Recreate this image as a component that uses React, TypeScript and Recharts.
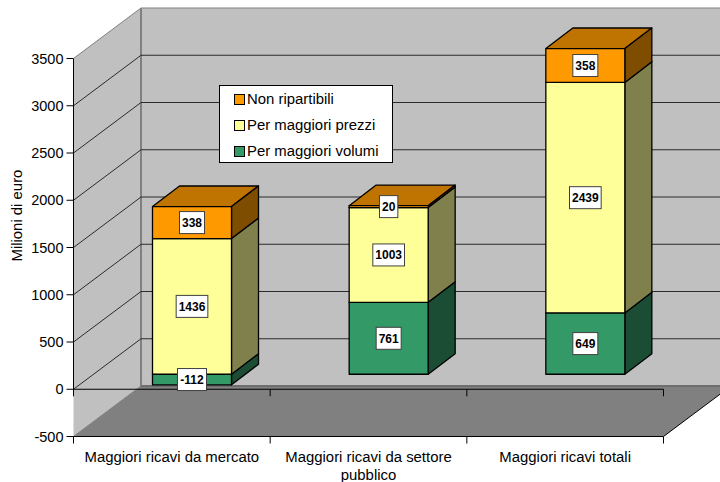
import { Bar, BarChart, CartesianGrid, LabelList, Legend, Text, XAxis, YAxis } from 'recharts'

const categories = ['Maggiori ricavi da mercato', 'Maggiori ricavi da settore pubblico', 'Maggiori ricavi totali']
const perVolumi = [-112, 761, 649]
const perPrezzi = [1436, 1003, 2439]
const nonRipartibili = [338, 20, 358]
const valueTicks = [-500, 0, 500, 1000, 1500, 2000, 2500, 3000, 3500]

const rows = categories.map((name, i) => ({
  name,
  volumi: perVolumi[i],
  prezzi: perPrezzi[i],
  nonRip: nonRipartibili[i],
}))

const FONT = '"Liberation Sans", Arial, sans-serif'
const TEXT_SIZE = 14.9
const WIDTH = 720
const HEIGHT = 482

// plot rectangle of the front plane
const LEFT = 73.5
const RIGHT = 663.5
const TOP = 58.5
const BOTTOM = 436.5
const BAND = (RIGHT - LEFT) / categories.length
const zeroY = BOTTOM - ((0 - valueTicks[0]) / 4000) * (BOTTOM - TOP)

// fake 3D: offset of the back wall, of the bar plane, and bar depth
const WALL_DX = 67.5
const WALL_DY = -50.5
const BAR_DX = 20
const BAR_DY = -15
const DEPTH_DX = 27
const DEPTH_DY = -20.6

function pts(list: number[][]) {
  return list.map((p) => p.join(',')).join(' ')
}

function Walls() {
  return (
    <g>
      <polygon
        points={pts([[LEFT, TOP], [LEFT + WALL_DX, TOP + WALL_DY], [LEFT + WALL_DX, BOTTOM + WALL_DY], [LEFT, BOTTOM]])}
        fill="#c0c0c0"
      />
      <rect x={LEFT + WALL_DX} y={TOP + WALL_DY} width={WIDTH} height={BOTTOM - TOP} fill="#c0c0c0" />
      <polygon
        points={pts([[LEFT, BOTTOM], [LEFT + WALL_DX, BOTTOM + WALL_DY], [RIGHT + WALL_DX, BOTTOM + WALL_DY], [RIGHT, BOTTOM]])}
        fill="#808080"
      />
      <line x1={LEFT + WALL_DX} y1={TOP + WALL_DY} x2={LEFT + WALL_DX} y2={BOTTOM + WALL_DY} stroke="#808080" strokeWidth={2} />
      <line x1={LEFT + WALL_DX} y1={BOTTOM + WALL_DY} x2={WIDTH} y2={BOTTOM + WALL_DY} stroke="#6e6e6e" strokeWidth={2} />
      <line x1={LEFT} y1={BOTTOM} x2={LEFT + WALL_DX} y2={BOTTOM + WALL_DY} stroke="#808080" />
    </g>
  )
}

// grid lines run along the side wall, then across the back wall
function GridLine(props: any) {
  const { x1, y1, x2 } = props
  if (y1 > BOTTOM - 1) return <g />
  const isTop = y1 < TOP + 1
  return (
    <polyline
      points={pts([[x1, y1], [x1 + WALL_DX, y1 + WALL_DY], [x2 + WALL_DX, y1 + WALL_DY]])}
      fill="none"
      stroke={isTop ? '#808080' : '#2b2b2b'}
      strokeWidth={1}
    />
  )
}

function CategoryTick(props: any) {
  const { x, y, payload, index } = props
  const left = x - BAND / 2
  const right = x + BAND / 2
  return (
    <g>
      <line x1={left} y1={BOTTOM} x2={left} y2={BOTTOM + 7} stroke="#000" />
      {index > 0 && <line x1={left} y1={zeroY} x2={left} y2={zeroY + 7} stroke="#000" />}
      {index === categories.length - 1 && (
        <>
          <line x1={right} y1={BOTTOM} x2={right} y2={BOTTOM + 7} stroke="#000" />
          <line x1={right} y1={zeroY} x2={right} y2={zeroY + 7} stroke="#000" />
        </>
      )}
      <Text x={x} y={y + 6.5} width={192} textAnchor="middle" verticalAnchor="start" lineHeight={18.5} fontSize={TEXT_SIZE} fontFamily={FONT} fill="#000">
        {payload.value}
      </Text>
    </g>
  )
}

function AxisFrame() {
  return (
    <g>
      <line x1={LEFT} y1={TOP} x2={LEFT} y2={zeroY + 7} stroke="#000" />
      <line x1={LEFT} y1={zeroY} x2={RIGHT} y2={zeroY} stroke="#000" />
      <line x1={RIGHT} y1={BOTTOM} x2={RIGHT + WALL_DX} y2={BOTTOM + WALL_DY} stroke="#000" />
    </g>
  )
}

const sideColors: Record<string, string[]> = {
  '#339966': ['#267350', '#1a4d33'],
  '#ffff99': ['#c0c073', '#80804d'],
  '#ff9900': ['#bf7300', '#7f4d00'],
}

function Block(props: any) {
  const { x, y, width, height, fill } = props
  const h = Math.abs(height)
  const l = x + BAR_DX
  const r = l + width
  const t = Math.min(y, y + height) + BAR_DY
  const b = t + h
  const [topFill, sideFill] = sideColors[fill]
  return (
    <g stroke="#000" strokeWidth={1.3} strokeLinejoin="round">
      <polygon points={pts([[l, t], [l + DEPTH_DX, t + DEPTH_DY], [r + DEPTH_DX, t + DEPTH_DY], [r, t]])} fill={topFill} />
      <polygon points={pts([[r, t], [r + DEPTH_DX, t + DEPTH_DY], [r + DEPTH_DX, b + DEPTH_DY], [r, b]])} fill={sideFill} />
      <rect x={l} y={t} width={width} height={h} fill={fill} />
    </g>
  )
}

function ValueBox(props: any) {
  const { x, y, width, height, value } = props
  const label = String(value)
  const w = label.length * 6.67 + 5 - (label.startsWith('-') ? 2.67 : 0)
  const cx = x + width / 2 + BAR_DX
  const cy = y + height / 2 + BAR_DY
  return (
    <g>
      <rect x={cx - w / 2} y={cy - 11} width={w} height={22} fill="#fff" stroke="#404040" strokeWidth={1} />
      <text x={cx} y={cy + 4.5} textAnchor="middle" fontFamily={FONT} fontSize={12} fontWeight={700} fill="#000">
        {label}
      </text>
    </g>
  )
}

function LegendBox(props: any) {
  const items = props.payload ?? []
  return (
    <div style={{ width: 172, height: 76, background: '#fff', border: '1px solid #000', fontFamily: FONT, fontSize: TEXT_SIZE, color: '#000' }}>
      {items.map((it: any, i: number) => (
        <div key={it.value} style={{ position: 'absolute', left: 15, top: 8 + i * 26, display: 'flex', alignItems: 'center', gap: 2, height: 12, whiteSpace: 'nowrap' }}>
          <span style={{ width: 9, height: 9, background: it.color, border: '1px solid #000', display: 'inline-block' }} />
          {it.value}
        </div>
      ))}
    </div>
  )
}

export default function App() {
  return (
    <div style={{ position: 'absolute', left: 0, top: 0, width: WIDTH, height: HEIGHT, background: '#fff' }}>
      <BarChart
        width={WIDTH}
        height={HEIGHT}
        data={rows}
        stackOffset="sign"
        barSize={79}
        margin={{ top: TOP, right: WIDTH - RIGHT, bottom: 0, left: 0 }}
      >
        <Walls />
        <CartesianGrid vertical={false} horizontal={GridLine} zIndex={1} />
        <AxisFrame />
        <XAxis
          dataKey="name"
          height={HEIGHT - BOTTOM}
          interval={0}
          tickLine={false}
          axisLine={{ stroke: '#000' }}
          tick={CategoryTick}
        />
        <YAxis
          width={LEFT}
          domain={[-500, 3500]}
          ticks={valueTicks}
          interval={0}
          axisLine={false}
          tickLine={{ stroke: '#000' }}
          tickSize={7}
          tickMargin={3}
          tick={{ fontSize: 14.5, fontFamily: FONT, fill: '#000' }}
          label={{ value: 'Milioni di euro', angle: -90, position: 'insideLeft', offset: 17, dy: 14, style: { fontSize: TEXT_SIZE, fontFamily: FONT, fill: '#000' } }}
        />
        <Legend
          layout="vertical"
          align="center"
          verticalAlign="middle"
          wrapperStyle={{ position: 'absolute', left: 219, top: 85, width: 174 }}
          content={LegendBox}
        />
        <Bar dataKey="volumi" name="Per maggiori volumi" stackId="a" fill="#339966" shape={Block} isAnimationActive={false}>
          <LabelList dataKey="volumi" content={ValueBox} />
        </Bar>
        <Bar dataKey="prezzi" name="Per maggiori prezzi" stackId="a" fill="#ffff99" shape={Block} isAnimationActive={false}>
          <LabelList dataKey="prezzi" content={ValueBox} />
        </Bar>
        <Bar dataKey="nonRip" name="Non ripartibili" stackId="a" fill="#ff9900" shape={Block} isAnimationActive={false}>
          <LabelList dataKey="nonRip" content={ValueBox} />
        </Bar>
      </BarChart>
    </div>
  )
}
